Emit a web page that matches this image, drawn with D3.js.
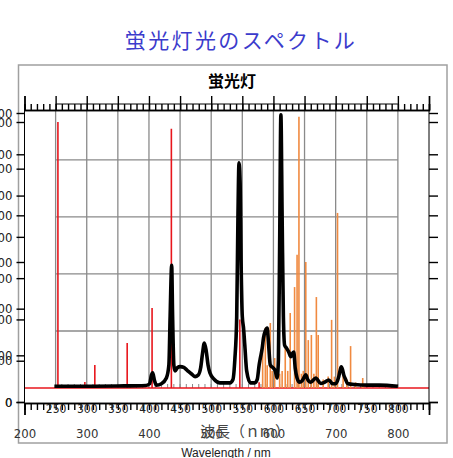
<!DOCTYPE html>
<html>
<head>
<meta charset="utf-8">
<script src="https://cdn.jsdelivr.net/npm/d3@7"></script>
<style>
body{margin:0;background:#fff;}
svg{display:block;}
.num{font-family:"Liberation Sans Narrow","DejaVu Sans Condensed","Liberation Sans",sans-serif;font-stretch:condensed;}
.jp{font-family:"Noto Sans CJK JP",sans-serif;}
</style>
</head>
<body>
<div id="chart"></div>
<script>
// tick labels
const xOuterTicks = [200, 300, 400, 500, 600, 700, 800];
const xInnerTicks = [250, 300, 350, 400, 450, 500, 550, 600, 650, 700, 750, 800];
const yTicksA = [0, 100, 200, 300, 400, 500, 600, 700];
const yTicksB = [0, 200, 400, 600, 800, 1000, 1200];
const gridLevels = [20, 40, 60, 80];

// red line spectrum (mercury lines), nm / relative intensity
const redNm  = [253.7, 297, 313, 365, 405, 436, 546, 577];
const redVal = [93.3, 2.1, 8.1, 15.8, 28.1, 90.9, 24, 2];

// orange line spectrum
const orangeNm  = [582.7, 587, 590, 595, 598, 602, 610, 614, 619, 623, 627, 634, 638, 641, 645, 648,
                   652, 656, 661, 665, 669, 672, 680, 688, 693.5, 698, 703, 712, 718, 724, 732, 743.5];
const orangeVal = [15.1, 21.1, 8, 22.8, 6, 10.5, 5, 6, 15.1, 6, 26.3, 35.4, 46.7, 95.1, 5, 6,
                   44.2, 16.8, 18.6, 5, 31.9, 18.6, 3, 4, 23.9, 4, 61.4, 5, 3, 14.7, 2, 3.5];

// black fluorescent lamp spectrum
const blackNm  = [248, 300, 350, 395, 401, 404, 406, 409, 412, 420, 428, 432, 434, 436.5, 438, 440,
                  442, 446, 450, 456, 461, 468, 474, 479, 483, 486, 489, 492, 495, 498, 505, 514,
                  530, 535, 538, 541, 543, 544.7, 546.5, 548, 550, 552, 554, 557, 563, 570, 574, 577,
                  579, 582, 584, 587, 590, 592, 595, 600, 603, 606, 608, 610, 612, 614, 616, 618,
                  621, 624.7, 628, 630, 632.7, 635, 638, 642, 646, 650, 652, 655, 660, 668, 676, 682,
                  689, 695, 700, 705, 707, 709, 711, 713, 716, 719, 730, 751, 770, 800];
const blackVal = [0.6, 0.6, 0.7, 0.9, 1.5, 4.5, 5.3, 2.5, 1.0, 1.5, 3.5, 8, 25, 43, 25, 8,
                  6, 7.2, 7.5, 7.2, 6.3, 5, 4, 4.5, 7, 12, 15.8, 13, 8, 5.3, 3, 1.8,
                  1.8, 3, 10, 25, 60, 79, 72, 45, 25, 21, 15, 6, 1.8, 1.8, 3, 8,
                  10.5, 14, 17.5, 20, 21, 16, 8, 7, 6, 3.5, 10, 50, 95.8, 60, 25, 15,
                  14, 12.6, 11, 12, 12.6, 7, 3.5, 2, 2.5, 4, 4.6, 3, 2, 3.5, 1.6, 2,
                  2.8, 1.5, 1.5, 4, 6, 7.4, 6.5, 4.6, 3, 1.6, 1.2, 1.0, 1.0, 0.6];

const W = 453, H = 458;
const svg = d3.select("#chart").append("svg")
  .attr("width", W).attr("height", H);

const x = d3.scaleLinear().domain([200, 850]).range([24.5, 429]);
const y = d3.scaleLinear().domain([-5.26, 97.5]).range([403, 110]);
const yA = d3.scaleLinear().domain([0, 700]).range([402, 113]);
const yB = d3.scaleLinear().domain([0, 1200]).range([402, 122]);

// title
svg.append("text").attr("class", "jp")
  .attr("x", 241).attr("y", 48)
  .attr("text-anchor", "middle")
  .attr("font-size", 21).attr("letter-spacing", 2.4)
  .attr("fill", "#3b3bcc")
  .text("蛍光灯光のスペクトル");

// outer frame
svg.append("rect")
  .attr("x", 18.5).attr("y", 65).attr("width", 428.5).attr("height", 378)
  .attr("fill", "none").attr("stroke", "#a0a0a0").attr("stroke-width", 1.5);

svg.append("text").attr("class", "jp")
  .attr("x", 232).attr("y", 87)
  .attr("text-anchor", "middle")
  .attr("font-size", 16).attr("font-weight", "bold")
  .attr("fill", "#000")
  .text("蛍光灯");

// grid
const grid = svg.append("g").attr("stroke", "#8a8a8a").attr("stroke-width", 1.3);
grid.selectAll(".gv").data(xInnerTicks).join("line")
  .attr("x1", d => x(d)).attr("x2", d => x(d))
  .attr("y1", 110).attr("y2", y(0));
grid.selectAll(".gh").data(gridLevels).join("line")
  .attr("x1", x(250)).attr("x2", x(800))
  .attr("y1", d => y(d)).attr("y2", d => y(d));

// small ticks along the zero line
svg.append("g").attr("stroke", "#888").attr("stroke-width", 1)
  .selectAll("line").data(d3.range(250, 801, 10)).join("line")
  .attr("x1", d => x(d)).attr("x2", d => x(d))
  .attr("y1", y(0)).attr("y2", y(0) - 4);

// red spectrum
svg.append("line")
  .attr("x1", x(200)).attr("x2", x(850))
  .attr("y1", y(0)).attr("y2", y(0))
  .attr("stroke", "#e8161c").attr("stroke-width", 1.6);
svg.append("g").attr("stroke", "#e8161c").attr("stroke-width", 1.6)
  .selectAll("line").data(redNm).join("line")
  .attr("x1", d => x(d)).attr("x2", d => x(d))
  .attr("y1", y(0)).attr("y2", (d, i) => y(redVal[i]));

// orange spectrum
svg.append("g").attr("stroke", "#f08a40").attr("stroke-width", 1.6)
  .selectAll("line").data(orangeNm).join("line")
  .attr("x1", d => x(d)).attr("x2", d => x(d))
  .attr("y1", y(0)).attr("y2", (d, i) => y(orangeVal[i]));

// black spectrum
const line = d3.line()
  .x(d => x(d[0])).y(d => y(d[1]))
  .curve(d3.curveMonotoneX);
svg.append("path")
  .datum(blackNm.map((n, i) => [n, blackVal[i]]))
  .attr("d", line)
  .attr("fill", "none").attr("stroke", "#000")
  .attr("stroke-width", 3.6).attr("stroke-linejoin", "round");

// inner axes
const minor = d3.range(200, 851, 10);

const axTop = svg.append("g").attr("transform", "translate(0,110)");
axTop.call(d3.axisTop(x).tickValues(minor).tickSize(6).tickFormat(""));
axTop.append("g").call(d3.axisTop(x).tickValues(d3.range(200, 851, 50)).tickSize(14).tickFormat(""));
axTop.append("line").attr("x1", x(250)).attr("x2", x(800))
  .attr("y1", -6).attr("y2", -6).attr("stroke", "#000");

const axBot = svg.append("g").attr("transform", "translate(0,403)");
axBot.call(d3.axisBottom(x).tickValues(minor).tickSize(7).tickFormat(""));
axBot.append("g").call(d3.axisBottom(x).tickValues([200, 850]).tickSize(12).tickFormat(""));
axBot.append("g").attr("class", "num")
  .call(d3.axisBottom(x).tickValues(xInnerTicks).tickSize(0).tickPadding(1))
  .call(g => g.select(".domain").remove())
  .selectAll("text").attr("font-size", 12).attr("font-family", null).attr("fill", "#222");

const axLeft = svg.append("g").attr("transform", "translate(24.5,0)");
axLeft.append("line").attr("y1", 110).attr("y2", 403).attr("stroke", "#000");
[[yA, yTicksA], [yB, yTicksB]].forEach(([s, t]) => {
  axLeft.append("g").attr("class", "num")
    .call(d3.axisLeft(s).tickValues(t).tickSize(8).tickPadding(4))
    .call(g => g.select(".domain").remove())
    .selectAll("text").attr("font-size", 13).attr("font-family", null).attr("fill", "#222");
});

const axRight = svg.append("g").attr("transform", "translate(429,0)");
axRight.append("line").attr("y1", 110).attr("y2", 403).attr("stroke", "#000");
[[yA, yTicksA], [yB, yTicksB]].forEach(([s, t]) => {
  axRight.append("g")
    .call(d3.axisRight(s).tickValues(t).tickSize(9).tickFormat(""))
    .call(g => g.select(".domain").remove());
});
svg.selectAll(".tick line, .domain").attr("stroke-width", 1.4);

// outer x axis labels
svg.append("g").attr("class", "num")
  .attr("transform", "translate(0,429)")
  .call(d3.axisBottom(x).tickValues(xOuterTicks).tickSize(0).tickPadding(0))
  .call(g => g.select(".domain").remove())
  .selectAll("text").attr("font-size", 13).attr("font-family", null).attr("fill", "#333");

svg.append("text").attr("class", "jp")
  .attr("x", 200).attr("y", 437)
  .attr("font-size", 15).attr("fill", "#444")
  .text("波長（ｎｍ）");

svg.append("text")
  .attr("x", 226).attr("y", 457)
  .attr("text-anchor", "middle")
  .attr("font-family", "Liberation Sans, sans-serif")
  .attr("font-size", 12).attr("fill", "#222")
  .text("Wavelength / nm");
</script>
</body>
</html>
